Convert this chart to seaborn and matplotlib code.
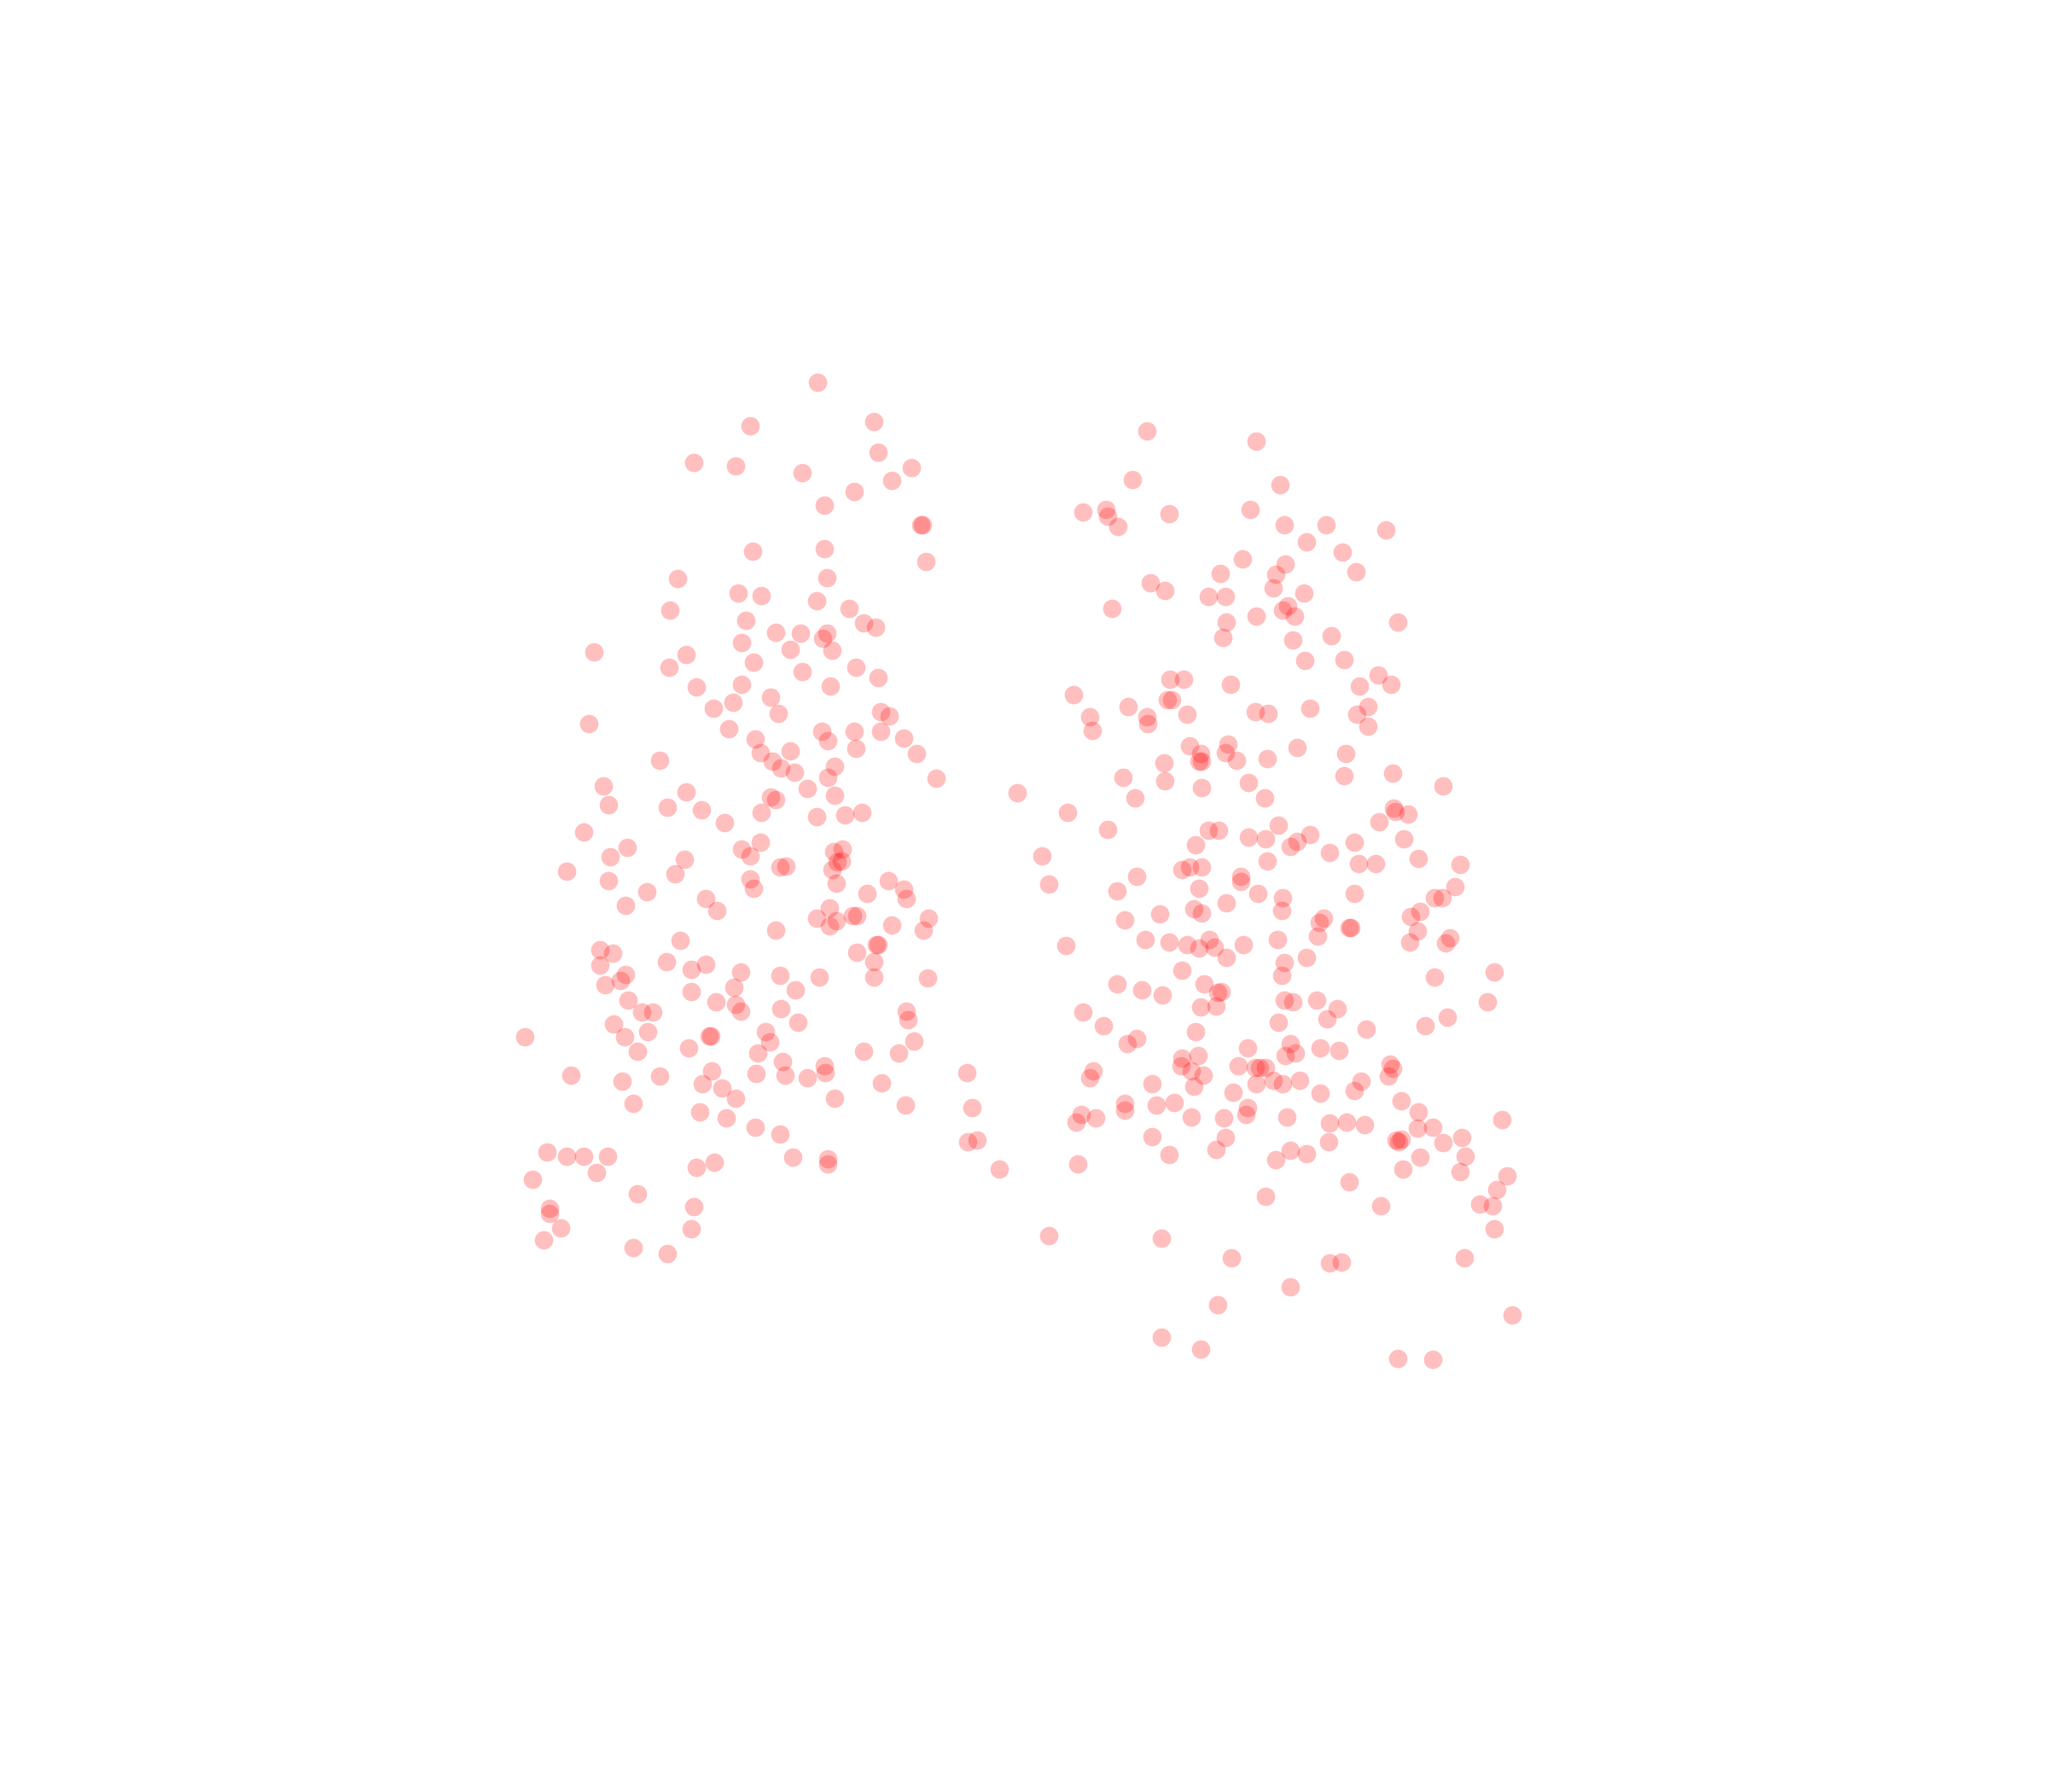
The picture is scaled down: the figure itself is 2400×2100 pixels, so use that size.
import matplotlib
matplotlib.use("Agg")
import matplotlib.pyplot as plt
import pandas as pd
import seaborn as sns

# values, in picture units
left_x = [626, 669, 574, 672, 531, 563, 614, 698, 683, 654, 631, 705, 706, 709, 576, 631, 633, 519, 565, 583,
          625, 513, 650, 571, 661, 670, 594, 613, 633, 630, 568, 605, 637, 455, 525, 512, 577, 614, 655, 672,
          533, 568, 636, 590, 561, 546, 596, 674, 681, 451, 558, 629, 654, 674, 692, 578, 634, 655, 582, 605,
          702, 505, 591, 598, 608, 639, 634, 717, 462, 618, 525, 639, 590, 594, 466, 511, 537, 583, 625, 647,
          660, 555, 447, 582, 480, 568, 574, 638, 645, 467, 524, 644, 641, 597, 602, 637, 434, 517, 574, 466,
          640, 680, 577, 495, 664, 692, 694, 540, 479, 549, 635, 625, 640, 635, 653, 656, 683, 711, 707, 594,
          521, 672, 671, 459, 469, 656, 510, 669, 459, 529, 540, 567, 479, 475, 597, 627, 669, 710, 463, 529,
          562, 609, 481, 548, 563, 567, 598, 491, 500, 694, 695, 470, 611, 496, 586, 402, 478, 543, 544, 589,
          700, 527, 488, 580, 661, 688, 599, 631, 545, 601, 632, 437, 579, 618, 505, 476, 538, 675, 553, 740,
          563, 485, 639, 693, 744, 536, 556, 578, 597, 741, 748, 419, 434, 447, 465, 607, 634, 634, 547, 533,
          765, 457, 408, 488, 421, 421, 531, 429, 529, 416, 485, 511]
left_y = [293, 323, 326, 346, 354, 357, 362, 358, 368, 376, 387, 402, 402, 430, 422, 420, 442, 443, 454, 456,
          460, 467, 466, 475, 477, 480, 484, 485, 485, 489, 492, 497, 498, 499, 501, 511, 507, 514, 511, 519,
          526, 524, 525, 534, 538, 542, 546, 545, 548, 554, 558, 560, 560, 560, 565, 566, 567, 573, 576, 575,
          577, 582, 583, 588, 591, 587, 595, 596, 602, 604, 606, 609, 610, 612, 616, 618, 620, 622, 625, 624,
          622, 630, 637, 645, 649, 650, 655, 652, 650, 656, 658, 659, 660, 664, 663, 666, 667, 669, 673, 674,
          676, 674, 680, 683, 684, 681, 688, 688, 693, 697, 695, 703, 705, 709, 701, 701, 708, 703, 712, 712,
          720, 723, 723, 727, 730, 729, 736, 736, 739, 742, 738, 744, 746, 751, 747, 748, 748, 749, 754, 759,
          756, 758, 766, 767, 769, 774, 772, 775, 775, 774, 781, 784, 783, 790, 790, 794, 794, 793, 793, 798,
          797, 802, 805, 806, 805, 806, 813, 816, 820, 823, 821, 823, 822, 825, 824, 828, 830, 829, 833, 821,
          841, 845, 841, 846, 848, 851, 856, 863, 868, 874, 873, 882, 885, 885, 885, 886, 887, 891, 890, 894,
          895, 898, 903, 914, 925, 929, 924, 940, 941, 949, 955, 960]

right_x = [878, 962, 867, 980, 829, 847, 848, 895, 957, 856, 983, 1015, 1061, 1000, 1028, 951, 984, 1038, 934, 977,
           881, 892, 975, 998, 925, 938, 851, 986, 982, 962, 991, 939, 1070, 936, 1019, 990, 999, 1029, 896, 906,
           942, 1055, 1041, 1065, 822, 894, 897, 1047, 1003, 864, 961, 971, 909, 834, 878, 879, 1039, 1047, 836, 911,
           940, 993, 938, 919, 1030, 918, 920, 947, 970, 891, 1066, 860, 892, 1029, 956, 920, 1105, 968, 869, 779,
           817, 1067, 1068, 1078, 1056, 979, 925, 933, 848, 1075, 1003, 956, 969, 1037, 915, 993, 988, 798, 1018, 1086,
           970, 1040, 1053, 1118, 905, 911, 920, 870, 950, 950, 803, 1114, 918, 855, 963, 1037, 1098, 1104, 982, 939,
           914, 920, 981, 1087, 888, 1080, 861, 1013, 1010, 1034, 1033, 1085, 1009, 877, 895, 978, 926, 909, 918, 930,
           952, 1110, 1107, 816, 1079, 939, 1000, 983, 905, 1144, 981, 1098, 855, 922, 874, 890, 932, 935, 983, 990,
           1008, 1139, 919, 931, 1024, 829, 1108, 1016, 979, 845, 1046, 1091, 915, 870, 863, 988, 955, 1011, 1025, 917,
           984, 992, 905, 904, 912, 921, 948, 961, 964, 969, 1064, 1066, 1063, 837, 834, 975, 982, 995, 962, 1042,
           882, 914, 944, 1037, 1011, 1073, 861, 899, 885, 861, 955, 954, 1086, 828, 839, 824, 912, 937, 985, 1018,
           1031, 1045, 1097, 1085, 1150, 1119, 882, 938, 1017, 1069, 1073, 1071, 1105, 931, 895, 988, 1000, 1122, 1087, 977,
           825, 1074, 1118, 1154, 1033, 1146, 969, 1133, 1143, 1057, 1144, 803, 889, 943, 1121, 1018, 1027, 988, 932, 1158,
           889, 919, 1070, 1097]
right_y = [330, 338, 367, 371, 392, 390, 395, 393, 390, 403, 402, 402, 406, 415, 423, 428, 432, 438, 439, 440,
           446, 452, 450, 454, 457, 457, 466, 464, 467, 472, 472, 476, 476, 488, 487, 490, 506, 505, 520, 520,
           524, 517, 525, 524, 532, 536, 536, 541, 542, 541, 545, 546, 547, 549, 549, 554, 547, 556, 559, 571,
           570, 572, 576, 577, 577, 583, 583, 582, 581, 584, 592, 595, 598, 594, 599, 603, 602, 611, 611, 607,
           622, 619, 621, 623, 629, 632, 636, 636, 635, 642, 639, 641, 642, 645, 647, 644, 648, 655, 653, 657,
           659, 661, 661, 662, 666, 664, 664, 671, 671, 675, 677, 679, 680, 682, 684, 684, 687, 687, 687, 691,
           696, 699, 697, 698, 700, 702, 704, 703, 706, 710, 710, 713, 717, 719, 721, 719, 719, 723, 726, 725,
           723, 718, 722, 724, 721, 733, 733, 737, 743, 744, 747, 748, 753, 753, 758, 762, 760, 759, 766, 767,
           766, 767, 771, 770, 772, 775, 779, 780, 783, 785, 788, 785, 790, 795, 799, 799, 802, 802, 804, 808,
           808, 806, 810, 816, 820, 823, 816, 817, 817, 817, 815, 818, 824, 820, 825, 827, 830, 827, 830, 828,
           830, 832, 836, 835, 837, 843, 845, 844, 846, 850, 848, 853, 851, 853, 856, 859, 855, 856, 855, 860,
           859, 861, 863, 864, 857, 871, 870, 871, 874, 873, 872, 874, 875, 880, 884, 881, 883, 885, 886, 888,
           891, 895, 897, 900, 905, 911, 916, 922, 923, 923, 941, 946, 948, 963, 963, 967, 966, 985, 999, 1007,
           1024, 1033, 1040, 1041]

df = pd.DataFrame({"x": left_x + right_x, "y": left_y + right_y})

sns.set_theme(style="white")

fig = plt.figure(figsize=(8, 7))
ax = fig.add_axes([0, 0, 1, 1])
sns.scatterplot(data=df, x="x", y="y", color="red", alpha=0.25, s=27, linewidth=0, ax=ax)
ax.set_xlim(0, 1568)
ax.set_ylim(1372, 0)
ax.axis("off")

plt.savefig("out.png", dpi=300, facecolor="white")
plt.close()
